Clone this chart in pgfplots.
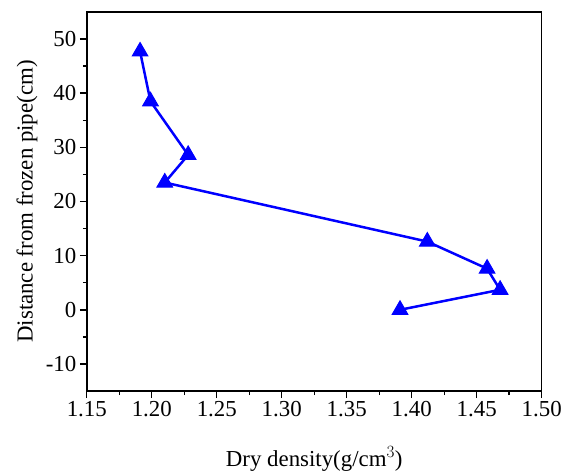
\documentclass[border=0pt]{standalone}
\usepackage{fontspec}
\setmainfont{Liberation Serif}
\usepackage{pgfplots}
\pgfplotsset{compat=1.18}

\begin{document}
\begin{tikzpicture}
\begin{axis}[
  name=ax,
  scale only axis,
  width=456bp,
  height=380bp,
  xmin=1.15, xmax=1.50,
  ymin=-15, ymax=55,
  xtick={1.15,1.20,...,1.50},
  ytick={-10,0,...,50},
  minor x tick num=1,
  minor y tick num=1,
  xticklabel style={/pgf/number format/fixed,/pgf/number format/fixed zerofill,/pgf/number format/precision=2},
  /pgf/number format/assume math mode=true,
  tick align=outside,
  tick pos=left,
  major tick length=7bp,
  minor tick length=4bp,
  every tick/.style={black, line width=1.4bp},
  axis line style={line width=1.6bp},
  tick label style={font=\fontsize{23}{26}\selectfont},
  label style={font=\fontsize{23}{26}\selectfont},
  xlabel={Dry density(g/cm$^{3}$)},
  ylabel={Distance from frozen pipe(cm)},
  xlabel style={at={(axis description cs:0.5,0)}, anchor=base, yshift=-76bp},
  ylabel style={at={(axis description cs:0,0.5)}, anchor=center, yshift=60bp},
]
\addplot[blue, line width=2.5bp, mark=triangle*, mark size=9bp, mark options={fill=blue, line width=1bp}] coordinates {
  (1.191,47.7) (1.199,38.5) (1.228,28.6) (1.210,23.5)
  (1.412,12.6) (1.458,7.6) (1.468,3.7) (1.391,0.0)
};
\end{axis}
\path ([shift={(-87bp,-80bp)}]ax.south west) rectangle ([shift={(22bp,12bp)}]ax.north east);
\end{tikzpicture}
\end{document}
